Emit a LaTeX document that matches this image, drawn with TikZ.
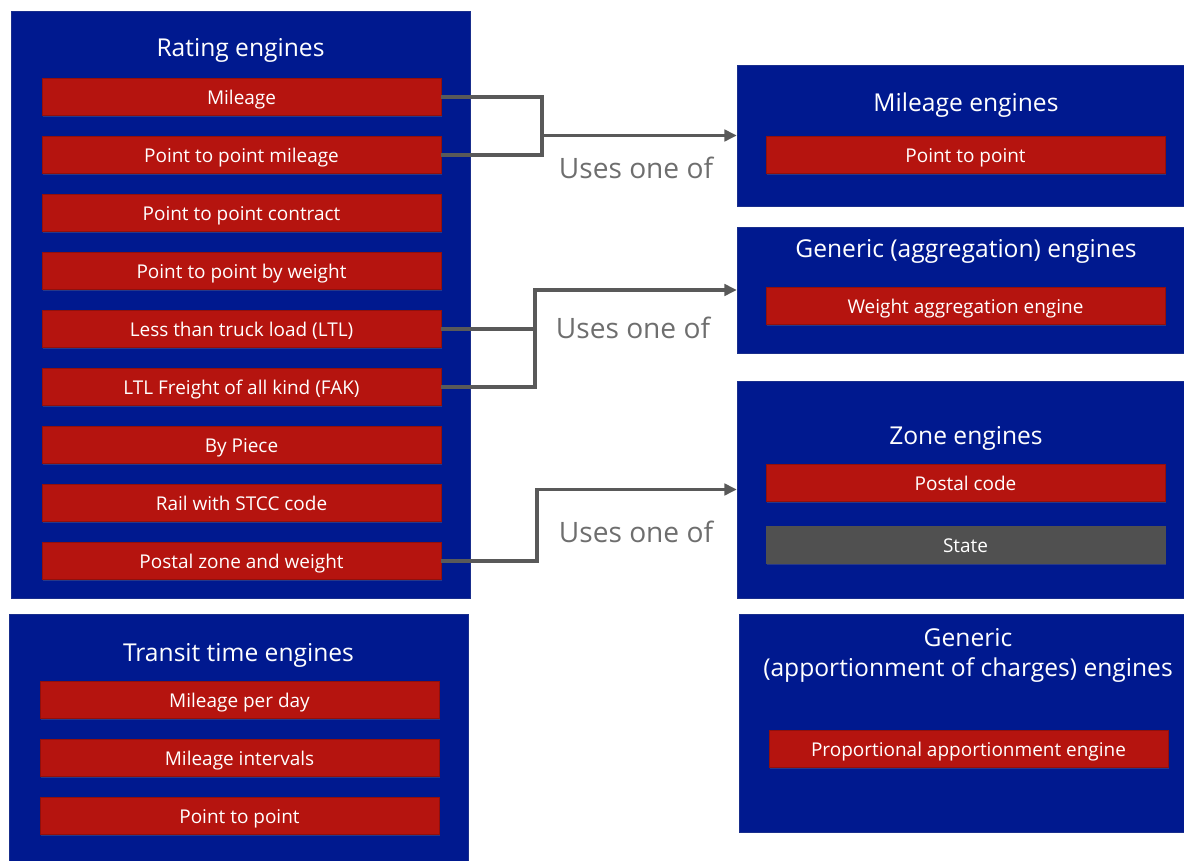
\documentclass[tikz,border=0pt]{standalone}
\usepackage{fontspec}
\setmainfont{Open Sans}
\usepackage{xcolor}
\usepackage{tikz}
\usetikzlibrary{arrows.meta,positioning,shadows}
\definecolor{panel}{HTML}{00198F}
\definecolor{engine}{HTML}{B5140F}
\definecolor{idle}{HTML}{505050}
\definecolor{link}{HTML}{595959}
\definecolor{note}{HTML}{6E6E6E}
\tikzset{
  pnl/.style={rectangle, fill=panel, draw=panel!80!gray, line width=0.3pt,
              inner sep=0pt, drop shadow={opacity=0.25,shadow xshift=0.8pt,shadow yshift=-0.8pt}},
  ttl/.style={font=\fontsize{14}{17}\selectfont, text=white, align=center, yshift=-1.5pt},
  eng/.style={rectangle, fill=engine, draw=engine!80!black, line width=0.3pt,
              minimum width=7.98cm, minimum height=0.74cm, inner sep=0pt,
              text height=0.8em, text depth=0pt,
              font=\fontsize{10.8}{13}\selectfont, text=white,
              drop shadow={opacity=0.3,shadow xshift=0.6pt,shadow yshift=-0.6pt}},
  engoff/.style={eng, fill=idle, draw=idle},
  ar/.style={-{Triangle[length=7pt,width=6.5pt]}, line width=2pt, draw=link},
  ln/.style={line width=2pt, draw=link},
  lbl/.style={font=\fontsize{16}{19}\selectfont, text=note},
}
\begin{document}
\begin{tikzpicture}[x=0.02cm, y=-0.02cm]
  \useasboundingbox (0,0) rectangle (1184,861);

  % panels
  \node[pnl, minimum width=9.18cm, minimum height=11.74cm] (rate) at (240.5,304.5) {};
  \node[pnl, minimum width=9.18cm, minimum height=4.94cm] (transit) at (238.5,737.5) {};
  \node[pnl, minimum width=8.94cm, minimum height=2.82cm] (meng) at (960.5,135.5) {};
  \node[pnl, minimum width=8.94cm, minimum height=2.52cm] (geng) at (960.5,290) {};
  \node[pnl, minimum width=8.94cm, minimum height=4.34cm] (zeng) at (960.5,489.5) {};
  \node[pnl, minimum width=8.9cm, minimum height=4.36cm] (aeng) at (961.5,723) {};

  % titles
  \node[ttl] (ratet) at (240.5,48) {Rating engines};
  \node[ttl] (transitt) at (238.5,653) {Transit time engines};
  \node[ttl] (mengt) at (966,102) {Mileage engines};
  \node[ttl] (gengt) at (966,249) {Generic (aggregation) engines};
  \node[ttl] (zengt) at (966,436) {Zone engines};
  \node[ttl] (aengt) at (968,653) {Generic\\(apportionment of charges) engines};

  % rating engines
  \foreach \t [count=\i] in {Mileage, Point to point mileage, Point to point contract,
      Point to point by weight, Less than truck load (LTL), LTL Freight of all kind (FAK),
      By Piece, Rail with STCC code, Postal zone and weight}
    \node[eng] (r\i) at (241.5,39+58*\i) {\t};

  % transit time engines
  \foreach \t [count=\i] in {Mileage per day, Mileage intervals, Point to point}
    \node[eng] (t\i) at (239.5,642+58*\i) {\t};

  \node[eng] (m1) at (965.5,155) {Point to point};
  \node[eng] (g1) at (965.5,306) {Weight aggregation engine};
  \node[eng] (z1) at (965.5,483) {Postal code};
  \node[engoff] (z2) at (965.5,545) {State};
  \node[eng] (a1) at (968.5,749) {Proportional apportionment engine};

  % links
  \coordinate (j1) at (542,135.5);
  \coordinate (j2) at (535,290);
  \coordinate (j3) at (537,489.5);
  \draw[ln] (r1.east) -| (j1);
  \draw[ln] (r2.east) -| (j1);
  \draw[ar] (j1) -- (meng.west);
  \draw[ln] (r5.east) -- (r5.east -| j2);
  \draw[ar] (r6.east) -| (j2) -- (geng.west);
  \draw[ar] (r9.east) -| (j3) -- (zeng.west);

  \node[lbl] (u1) at (636,168) {Uses one of};
  \node[lbl] (u2) at (633,328) {Uses one of};
  \node[lbl] (u3) at (636,532) {Uses one of};
\end{tikzpicture}
\end{document}
